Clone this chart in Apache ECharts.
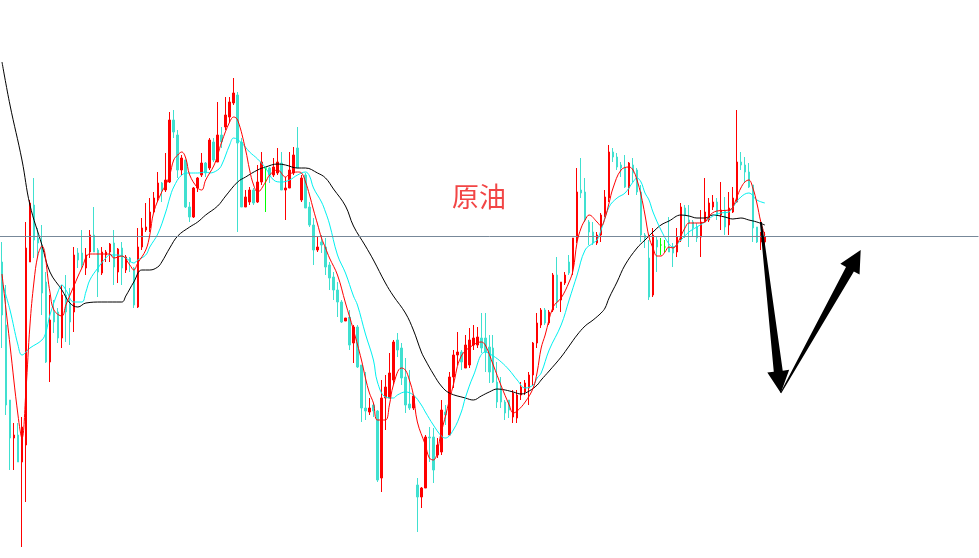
<!DOCTYPE html>
<html>
<head>
<meta charset="utf-8">
<script src="https://cdn.jsdelivr.net/npm/echarts@6/dist/echarts.min.js"></script>
<style>
html,body{margin:0;padding:0;background:#fff;}
#c{width:979px;height:558px;}
</style>
</head>
<body>
<div id="c"></div>
<script>
// ---- data (price units) ----
const categories = Array.from({length: 245}, (_, i) => String(i + 1));
// [open, close, low, high]
const candles = [
[59.6,54.3,51.0,61.6],[53.3,45.3,44.3,57.3],[45.8,42.0,38.8,45.8],[42.0,42.3,38.8,43.5],[42.3,39.6,39.6,43.5],
[39.6,43.1,31.1,44.1],[41.3,61.0,35.6,63.6],[59.6,65.5,59.6,65.8],[65.3,61.8,60.0,68.0],[62.0,61.5,60.0,63.0],
[61.3,56.5,54.3,63.3],[57.6,49.6,49.5,58.6],[49.6,53.8,47.6,56.3],[54.6,53.6,52.5,55.8],[54.6,52.0,51.5,55.0],
[52.0,56.3,51.0,57.3],[56.3,54.6,51.6,58.3],[55.5,53.6,51.3,57.0],[54.6,60.3,52.6,61.1],[60.5,59.8,59.0,61.0],
[60.5,59.3,59.0,62.8],[59.0,60.3,58.3,61.0],[60.6,62.3,60.0,62.8],[62.3,60.6,60.6,65.1],[60.8,58.6,56.1,61.0],
[58.5,60.6,58.3,61.1],[60.3,60.6,59.6,60.8],[60.6,61.4,59.6,61.5],[61.5,59.1,57.3,62.8],[58.6,60.9,57.5,61.0],
[61.0,59.0,57.3,61.6],[58.8,60.1,58.5,60.3],[60.0,59.6,58.6,60.1],[59.0,55.3,55.0,59.1],[55.1,61.1,55.0,63.0],
[61.1,63.0,60.8,64.0],[62.8,63.1,62.6,65.5],[63.0,64.6,62.6,66.0],[64.6,66.0,64.5,66.6],[66.0,67.5,65.6,68.6],
[67.5,66.8,65.6,67.6],[66.8,67.8,66.6,70.5],[67.6,73.8,67.5,74.6],[73.8,72.6,72.0,74.8],[72.3,68.8,68.0,72.8],
[68.8,70.0,68.3,70.3],[69.8,65.1,65.0,69.8],[65.1,64.1,63.6,65.6],[64.1,67.0,64.0,67.1],[67.0,68.0,66.6,68.1],
[68.3,69.5,68.1,70.5],[69.5,68.5,68.1,69.6],[69.0,71.8,68.8,72.0],[71.6,69.8,69.6,72.0],[69.6,72.3,69.6,75.6],
[72.3,71.6,71.0,73.1],[73.1,74.3,72.8,76.1],[74.1,75.6,73.6,76.1],[75.5,76.5,75.3,78.0],[76.3,71.5,62.6,76.6],
[71.6,65.1,65.1,72.0],[65.1,66.1,65.1,66.8],[65.6,66.8,65.3,67.1],[66.8,65.5,65.3,67.0],[65.6,67.6,65.5,69.3],
[67.6,69.6,67.3,70.6],[69.0,69.0,64.6,69.0],[69.0,68.3,67.5,69.1],[68.3,69.1,68.1,70.0],[68.5,69.6,68.3,71.0],
[69.5,66.8,66.8,70.6],[66.8,67.0,63.8,68.1],[67.0,68.8,67.0,70.6],[68.5,70.3,68.3,71.1],[71.0,69.0,69.0,73.1],
[65.8,68.0,65.6,68.3],[68.3,65.0,65.0,68.5],[65.1,63.3,63.1,65.6],[63.3,60.8,59.3,64.0],[60.8,61.1,60.6,62.1],
[61.6,61.3,60.5,62.3],[61.1,59.1,58.3,62.0],[59.3,58.0,56.8,59.6],[58.1,56.8,55.8,58.6],[56.8,55.6,54.1,57.6],
[55.6,53.6,53.5,55.8],[53.7,54.0,53.7,54.0],[54.1,51.3,50.8,54.8],[51.5,53.1,49.5,53.3],[53.1,49.1,49.0,53.3],
[49.3,45.0,43.6,49.3],[45.0,44.7,43.8,48.6],[44.6,45.0,44.3,46.0],[45.3,44.7,44.1,45.5],[44.7,37.8,37.6,44.8],
[38.0,46.0,36.6,47.8],[46.0,47.1,42.8,48.3],[46.0,48.5,46.0,50.5],[47.8,51.6,47.3,51.8],[51.8,50.8,50.1,52.5],
[51.0,48.0,47.3,51.5],[48.1,45.3,44.5,50.0],[45.4,45.0,44.8,48.8],[45.0,46.2,44.8,46.3],[37.3,36.1,32.6,38.0],
[36.1,37.0,35.0,37.1],[37.0,42.1,37.0,42.3],[42.1,42.0,39.6,43.1],[42.1,38.8,37.5,43.0],[40.3,41.3,40.0,42.0],
[40.6,44.8,40.3,45.8],[44.6,44.3,43.3,45.3],[42.3,48.1,42.3,48.6],[48.1,50.3,47.0,50.8],[50.3,50.6,49.3,52.6],
[50.6,49.6,48.8,50.8],[49.0,51.3,49.0,52.3],[49.3,51.8,49.0,53.0],[51.3,52.0,50.8,53.3],[51.3,52.1,51.0,53.1],
[52.0,51.0,50.5,54.5],[52.0,50.6,48.6,54.5],[51.1,48.6,47.5,52.3],[51.0,47.6,47.5,52.3],[47.6,45.6,45.0,49.6],
[47.0,45.6,45.0,48.1],[45.6,44.5,43.8,45.8],[45.8,44.8,44.0,45.8],[44.1,46.5,43.5,46.8],[44.0,46.3,43.5,46.8],
[46.3,47.1,45.8,47.6],[46.6,47.5,46.3,47.8],[47.0,48.3,45.3,48.6],[48.3,51.5,47.3,51.6],[51.5,53.5,51.0,54.5],
[53.3,54.8,53.0,55.0],[54.8,53.5,53.3,55.0],[53.5,54.6,53.3,54.8],[54.8,58.3,54.6,58.5],[58.3,55.6,55.0,60.1],
[55.8,57.6,54.6,57.6],[57.5,58.3,57.3,58.6],[59.6,58.5,58.3,60.3],[59.0,62.0,58.3,62.0],[61.8,66.6,61.5,69.0],
[66.8,66.5,66.0,70.0],[66.6,63.8,63.6,68.0],[63.6,62.6,61.3,63.8],[62.6,61.5,61.3,63.6],[61.5,62.3,61.3,62.6],
[62.3,64.3,61.6,64.5],[64.3,66.1,64.1,66.8],[66.0,70.6,65.6,71.3],[70.6,70.1,69.6,71.0],[70.1,69.1,68.8,70.5],
[69.3,69.0,68.1,69.6],[69.0,67.1,67.0,70.3],[67.0,69.5,66.3,69.6],[69.3,68.5,67.6,70.0],[68.8,66.6,66.3,69.0],
[66.6,62.3,61.6,67.3],[62.3,62.0,61.0,62.5],[60.0,56.1,55.8,61.8],[56.3,62.3,56.1,63.0],[61.8,61.1,58.6,62.1],
[61.3,61.3,60.3,62.0],[61.1,61.1,60.6,61.8],[61.1,60.6,60.6,64.1],[61.1,60.5,59.1,61.5],[60.6,62.1,60.1,63.0],
[61.8,65.1,61.6,65.5],[65.0,64.3,62.0,65.3],[63.8,63.5,61.1,65.3],[63.6,63.0,62.1,63.8],[63.1,62.0,61.6,63.5],
[62.1,63.6,60.1,64.8],[63.6,64.6,63.6,68.0],[63.8,65.5,63.6,66.0],[65.1,65.6,64.8,66.3],[65.6,64.3,63.8,66.0],
[64.3,64.8,62.8,67.6],[64.8,63.1,62.3,66.1],[63.3,65.0,62.3,66.6],[64.6,66.0,64.5,67.1],[65.6,69.6,65.5,74.8],
[69.6,69.3,68.8,70.6],[69.3,68.6,67.6,70.1],[68.6,67.1,67.0,69.5],[67.3,63.0,61.6,67.3],[63.1,61.6,61.5,63.1],
[61.6,62.0,60.8,62.6],[61.6,62.1,61.3,62.6]
];
const dojiIdx = [66, 165, 166];

// moving averages: [candle index, value]
const maFast = [
[0,58.4],[2,51.3],[4,44.3],[5,42.0],[6,46.8],[7,53.3],[8,57.6],[9,60.3],[10,61.2],[12,56.6],[13,54.8],[15,54.2],
[16,55.3],[18,57.2],[20,59.0],[22,60.4],[25,60.4],[27,60.4],[28,60.0],[30,60.2],[32,59.3],[33,58.8],[34,59.5],
[36,60.8],[37,62.3],[38,64.6],[40,66.6],[41,67.3],[42,68.3],[43,69.8],[44,70.3],[45,70.6],[46,70.0],[47,68.3],
[49,67.0],[50,66.8],[51,67.8],[53,69.2],[54,70.3],[55,71.6],[57,73.6],[58,74.1],[59,73.8],[61,70.8],[62,68.8],
[63,67.3],[64,66.6],[66,67.6],[67,68.3],[69,68.8],[71,68.1],[72,68.4],[74,68.6],[75,68.5],[76,67.6],[77,66.3],
[78,64.8],[79,63.4],[80,62.0],[81,61.0],[82,60.0],[84,58.3],[86,55.5],[88,52.8],[90,49.8],[91,48.0],[92,46.5],
[93,45.5],[94,43.8],[96,43.8],[97,45.3],[98,47.3],[100,49.0],[101,48.8],[102,47.8],[103,46.3],[104,43.6],
[106,41.3],[107,40.0],[108,39.8],[110,42.6],[113,47.3],[115,50.2],[118,51.3],[120,51.6],[121,51.3],[123,49.3],
[125,47.2],[127,45.3],[128,44.5],[129,44.7],[131,45.6],[133,47.0],[134,48.6],[135,51.0],[136,52.3],[138,55.1],
[140,56.0],[142,57.6],[143,58.8],[144,61.6],[145,63.0],[146,63.8],[147,64.3],[149,63.6],[150,63.2],[151,64.0],
[152,65.5],[153,67.0],[155,68.8],[157,69.1],[158,68.8],[159,67.8],[160,66.3],[161,64.3],[162,62.1],[163,61.0],
[164,60.2],[165,60.2],[166,60.6],[167,61.1],[168,61.0],[169,61.4],[170,62.2],[171,63.0],[172,63.5],[174,63.5],
[176,63.6],[177,64.2],[179,64.7],[182,64.8],[183,65.1],[184,66.1],[185,67.0],[186,67.6],[187,67.8],[188,67.0],
[189,65.5],[190,63.6],[191,62.3]
];
const maMid = [
[0,57.6],[2,54.8],[4,51.3],[5,50.3],[7,51.0],[10,51.8],[11,52.6],[12,54.3],[14,56.6],[15,57.3],[16,56.8],
[18,55.6],[20,55.6],[21,56.6],[22,57.8],[24,59.0],[26,60.0],[27,60.3],[29,60.3],[31,60.0],[33,59.5],[34,59.8],
[36,60.3],[37,61.1],[39,62.4],[41,64.6],[42,66.0],[43,67.1],[45,68.3],[47,68.5],[49,68.5],[51,68.6],[52,68.5],
[54,68.8],[55,69.3],[57,71.3],[58,72.0],[60,71.5],[62,70.6],[64,69.9],[66,69.0],[68,67.8],[70,67.6],[72,67.8],
[74,68.3],[76,68.6],[77,68.2],[78,67.0],[80,65.6],[81,64.6],[82,63.4],[84,60.3],[86,58.5],[88,56.2],[89,55.3],
[91,52.4],[93,49.8],[94,47.6],[96,46.1],[98,46.0],[99,46.3],[101,46.6],[103,46.3],[105,45.3],[106,44.6],
[108,43.3],[110,42.2],[111,42.0],[113,42.8],[115,44.6],[116,46.0],[118,48.2],[121,50.6],[123,50.2],[125,49.6],
[127,48.8],[129,47.8],[131,47.0],[133,47.3],[134,48.0],[135,48.5],[137,50.8],[140,53.3],[142,55.8],[144,58.3],
[146,60.8],[148,61.5],[149,61.8],[150,62.8],[152,65.1],[154,66.0],[156,66.5],[158,67.6],[159,68.0],[160,67.6],
[161,66.5],[162,65.8],[163,64.6],[165,62.8],[167,61.4],[168,61.1],[170,61.8],[172,62.6],[174,63.1],[176,63.6],
[178,64.2],[180,64.5],[182,64.6],[183,65.1],[185,66.1],[187,66.5],[189,65.8],[191,65.5]
];
const maSlow = [
[0,79.6],[2,75.3],[5,69.8],[7,65.3],[10,61.3],[12,58.6],[15,56.8],[17,55.5],[19,55.1],[21,55.5],[25,55.6],
[30,55.6],[31,56.2],[33,57.6],[35,58.8],[37,58.8],[39,59.1],[40,59.6],[42,61.0],[44,62.2],[47,63.1],[49,63.6],
[51,64.3],[54,65.2],[56,66.2],[59,67.6],[61,68.1],[64,68.8],[66,69.1],[69,69.4],[71,69.3],[74,69.0],[76,69.0],
[79,68.5],[81,68.0],[83,66.9],[86,65.2],[88,63.2],[91,61.2],[93,59.8],[96,57.5],[98,56.2],[101,54.5],[103,52.8],
[105,50.6],[106,49.8],[108,48.4],[110,47.2],[112,46.5],[116,46.0],[118,45.8],[120,46.2],[122,46.6],[124,46.9],
[126,46.8],[128,46.6],[130,46.4],[132,46.7],[134,47.3],[135,47.8],[137,48.7],[140,50.1],[142,51.2],[144,52.3],
[146,53.2],[148,53.8],[150,54.5],[151,55.0],[152,56.0],[154,57.6],[156,59.3],[159,61.0],[161,61.8],[163,62.6],
[165,63.3],[167,63.7],[170,64.3],[172,64.2],[174,64.0],[176,64.0],[178,64.3],[181,64.1],[183,63.9],[185,64.0],
[187,63.8],[189,63.6],[191,63.3]
];
const levelLine = 62.2;
const titleText = '原油';
// annotation arrows, in data space: [candle index, price]
const arrowDown = [[190, 63.6], [195, 46.5]];
const arrowUp = [[195, 46.5], [215, 60.8]];

// ---- chart ----
const UP = '#ff0000', DOWN = '#40e0d0', DOJI = '#00ff00';
const candleData = candles.map((v, i) => dojiIdx.includes(i)
  ? {value: v, itemStyle: {color: DOJI, color0: DOJI, borderColor: DOJI, borderColor0: DOJI, borderColorDoji: DOJI}}
  : v);

const chart = echarts.init(document.getElementById('c'), null, {renderer: 'canvas'});
chart.setOption({
  animation: false,
  backgroundColor: '#ffffff',
  grid: {left: -0.5, right: 0.5, top: 0, bottom: 0, containLabel: false},
  xAxis: {type: 'category', data: categories, show: false, boundaryGap: true},
  yAxis: {type: 'value', min: 30, max: 85.8, show: false, splitLine: {show: false}},
  series: [
    {
      type: 'candlestick', data: candleData, barWidth: 2,
      itemStyle: {color: UP, color0: DOWN, borderColor: UP, borderColor0: DOWN, borderColorDoji: DOJI, borderWidth: 1},
      emphasis: {disabled: true},
      markLine: {
        silent: true, symbol: 'none', label: {show: false},
        lineStyle: {color: '#778899', width: 1, type: 'solid'},
        data: [{yAxis: levelLine}]
      },
      z: 2
    },
    {type: 'line', data: maSlow, smooth: 0.4, showSymbol: false, lineStyle: {color: '#000000', width: 1}, z: 3, silent: true},
    {type: 'line', data: maMid, smooth: 0.4, showSymbol: false, lineStyle: {color: '#00f0f0', width: 1}, z: 4, silent: true},
    {type: 'line', data: maFast, smooth: 0.4, showSymbol: false, lineStyle: {color: '#ff0000', width: 1}, z: 5, silent: true}
  ]
});

function px(p) { return chart.convertToPixel({xAxisIndex: 0, yAxisIndex: 0}, p); }
function arrowPoly(a, b, w0, w1, hl, hw) {
  const dx = b[0] - a[0], dy = b[1] - a[1], L = Math.hypot(dx, dy);
  const ux = dx / L, uy = dy / L, nx = -uy, ny = ux;
  const bx = b[0] - ux * hl, by = b[1] - uy * hl;
  return [
    [a[0] + nx * w0 / 2, a[1] + ny * w0 / 2],
    [bx + nx * w1 / 2, by + ny * w1 / 2],
    [bx + nx * hw / 2, by + ny * hw / 2],
    [b[0], b[1]],
    [bx - nx * hw / 2, by - ny * hw / 2],
    [bx - nx * w1 / 2, by - ny * w1 / 2],
    [a[0] - nx * w0 / 2, a[1] - ny * w0 / 2]
  ];
}
const d0 = px(arrowDown[0]), d1 = px(arrowDown[1]);
const u0 = px(arrowUp[0]), u1 = px(arrowUp[1]);
chart.setOption({
  graphic: [
    {type: 'polygon', shape: {points: arrowPoly(d0, d1, 2, 9, 22, 22)}, style: {fill: '#000'}, z: 100, silent: true},
    {type: 'polygon', shape: {points: arrowPoly(u0, u1, 1, 9, 22, 22)}, style: {fill: '#000'}, z: 100, silent: true},
    {type: 'text', x: 479, y: 197, z: 100, silent: true,
     style: {text: titleText, fill: '#f24545', font: '27px "Noto Sans CJK SC"', align: 'center', verticalAlign: 'middle'}}
  ]
});
</script>
</body>
</html>
